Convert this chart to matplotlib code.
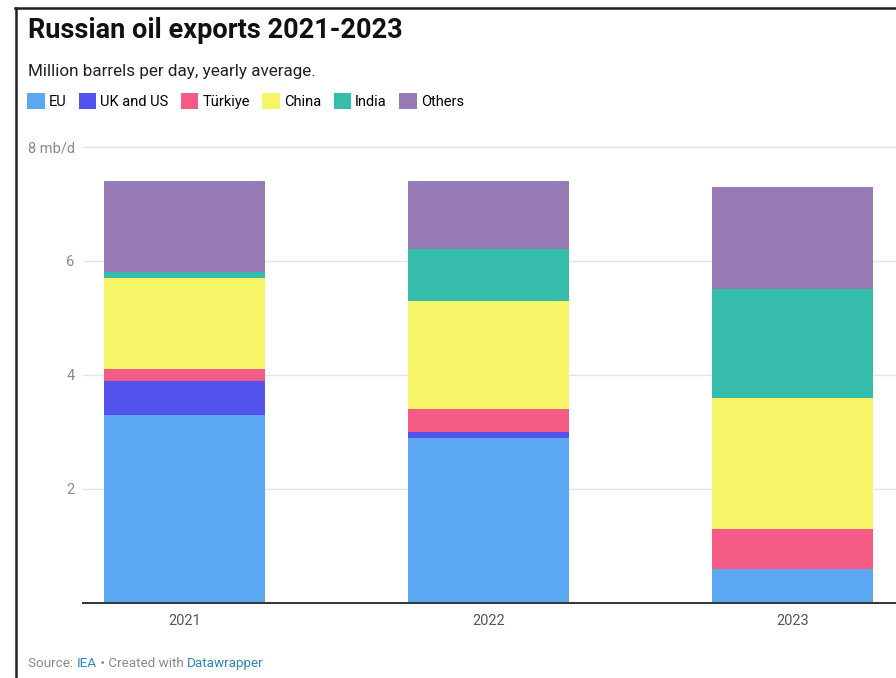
import numpy as np
import matplotlib.pyplot as plt
from matplotlib.lines import Line2D
from matplotlib.patches import Patch

plt.rcParams["font.family"] = ["Roboto", "DejaVu Sans"]

# Russian crude + products exports by destination, mb/d yearly average
years = ["2021", "2022", "2023"]
destinations = ["EU", "UK and US", "Türkiye", "China", "India", "Others"]
eu = [3.3, 2.9, 0.6]
uk_us = [0.6, 0.1, 0.0]
turkiye = [0.2, 0.4, 0.7]
china = [1.6, 1.9, 2.3]
india = [0.1, 0.9, 1.9]
others = [1.6, 1.2, 1.8]
colors = ["#5ba7f1", "#5253ee", "#f45b86", "#f5f567", "#36bcab", "#967bb6"]

series = [eu, uk_us, turkiye, china, india, others]

W, H = 896, 678
fig = plt.figure(figsize=(W / 100, H / 100), dpi=100)
fig.patch.set_facecolor("white")

# axes placed in pixel terms
ax_left, ax_bottom_px, ax_top_px = 83, 603, 144
ax = fig.add_axes([ax_left / W, 1 - ax_bottom_px / H,
                   1 - ax_left / W, (ax_bottom_px - ax_top_px) / H])

x = np.arange(len(years))
bottom = np.zeros(len(years))
for vals, col in zip(series, colors):
    ax.bar(x, vals, width=0.53, bottom=bottom, color=col, zorder=2)
    bottom += np.array(vals)

ax.set_xlim(-0.334, 2.34)
ax.set_ylim(0, 8.05)
ax.set_yticks([2, 4, 6, 8])
ax.set_yticklabels(["2", "4", "6", "8 mb/d"])
ax.set_xticks(x)
ax.set_xticklabels(years)
ax.tick_params(axis="y", length=0, pad=6, labelsize=10.5, labelcolor="#8a8a8a")
ax.tick_params(axis="x", length=0, pad=8, labelsize=10.5, labelcolor="#555555")
ax.grid(axis="y", color="#e4e4e4", linewidth=1, zorder=0)
for side in ["top", "right", "left"]:
    ax.spines[side].set_visible(False)
ax.spines["bottom"].set_color("#333333")
ax.spines["bottom"].set_linewidth(1.4)
ax.spines["bottom"].set_zorder(3)

# title block
fig.text(28 / W, 1 - 38 / H, "Russian oil exports 2021-2023",
         fontsize=19.5, fontweight="bold", color="#111111", va="baseline")
fig.text(28 / W, 1 - 76 / H, "Million barrels per day, yearly average.",
         fontsize=12.3, color="#222222", va="baseline")

handles = [Patch(facecolor=c, edgecolor="none") for c in colors]
fig.legend(handles, destinations, loc="upper left",
           bbox_to_anchor=(27 / W, 1 - 93 / H), ncol=6, frameon=False,
           fontsize=10.5, handlelength=1.2, handleheight=1.3,
           handletextpad=0.28, columnspacing=0.85, borderpad=0, borderaxespad=0)

# footer with coloured link words
fig.canvas.draw()
renderer = fig.canvas.get_renderer()
xpos = 28 / W
for part, col in [("Source: ", "#8a8a8a"), ("IEA", "#2b85c0"),
                  (" • Created with ", "#8a8a8a"), ("Datawrapper", "#2b85c0")]:
    t = fig.text(xpos, 1 - 667 / H, part, fontsize=9.7, color=col, va="baseline")
    bb = t.get_window_extent(renderer=renderer)
    xpos = bb.x1 / W

# frame lines on the left and top
fig.add_artist(Line2D([15.5 / W, 15.5 / W], [0, 1 - 7.5 / H],
                      color="#222222", linewidth=1.8))
fig.add_artist(Line2D([15 / W, 1], [1 - 7.5 / H, 1 - 7.5 / H],
                      color="#222222", linewidth=1.8))

fig.savefig("out.png", dpi=100, facecolor="white")
